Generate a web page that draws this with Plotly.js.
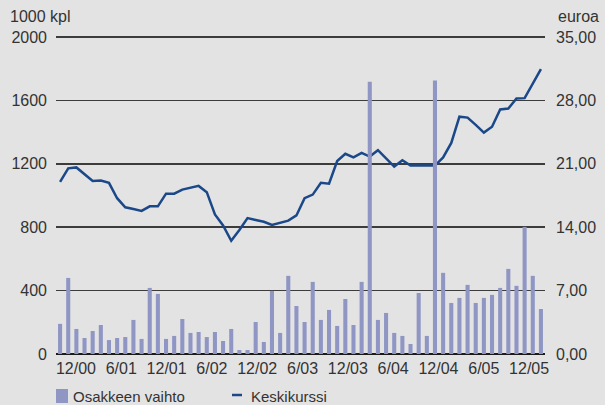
<!DOCTYPE html>
<html>
<head>
<meta charset="utf-8">
<script src="https://cdn.plot.ly/plotly-3.0.1.min.js"></script>
<style>html,body{margin:0;padding:0;background:#e3e3e3;}#chart{width:605px;height:405px;}</style>
</head>
<body>
<div id="chart"></div>
<script>
// Monthly turnover (1000 shares), 60 months
const volume = [190,480,158,101,145,183,88,101,107,215,95,417,379,95,114,221,133,139,107,139,
                82,158,25,25,202,76,398,133,493,303,202,455,215,278,177,347,183,455,1718,215,
                259,133,114,63,385,114,1725,512,322,354,436,322,354,373,417,537,430,802,493,284];
// Monthly average price (euro)
const price = [19.0,20.5,20.6,19.8,19.1,19.15,18.9,17.2,16.2,16.0,15.8,16.3,16.3,17.7,17.7,18.15,18.35,18.56,17.87,15.4,
               14.2,12.5,13.7,15.0,14.8,14.6,14.25,14.5,14.73,15.3,17.2,17.6,18.9,18.8,21.3,22.1,21.7,22.2,21.8,22.5,
               21.6,20.7,21.4,20.8,20.8,20.8,20.8,21.7,23.3,26.2,26.1,25.3,24.45,25.1,27.0,27.1,28.2,28.25,29.8,31.46];
const tickLabels = ['12/00','6/01','12/01','6/02','12/02','6/03','12/03','6/04','12/04','6/05','12/05'];
const seriesNames = ['Osakkeen vaihto','Keskikurssi'];
const barColor = '#8f96c4', lineColor = '#1b4889';

const months = volume.map((_, i) => i + 1);
const tickStart = 2.95, tickStep = 5.56;
const tickVals = tickLabels.map((_, i) => tickStart + i * tickStep);

const font = {family: 'Liberation Sans, Arial, sans-serif', size: 16, color: '#333333'};
const legFont = {family: font.family, size: 15, color: '#333333'};

// top headroom so the top gridline is not at the very plot edge
const priceTop = 35.22, volTop = 2000 * priceTop / 35;

const traces = [
  {type: 'scatter', mode: 'lines', x: months, y: price, name: seriesNames[1],
   xaxis: 'x', yaxis: 'y', line: {color: lineColor, width: 2.5}},
  {type: 'bar', x: months, y: volume, name: seriesNames[0],
   xaxis: 'x', yaxis: 'y2', marker: {color: barColor, line: {width: 0}}}
];

// paper coords: plot area is y 35..354 (319 px), x 56..545 (489 px)
const px = v => (v - 56) / 489;
const py = v => (354 - v) / 319;

const layout = {
  width: 605, height: 405,
  paper_bgcolor: '#e3e3e3', plot_bgcolor: '#e3e3e3',
  margin: {l: 56, r: 60, t: 35, b: 51, autoexpand: false},
  font: font,
  separators: ',.',
  bargap: 0.5,
  showlegend: false,
  xaxis: {range: [0.5, 60.5], tickmode: 'array', tickvals: tickVals, ticktext: tickLabels,
          showgrid: false, zeroline: false, showline: false, ticks: '', tickfont: font,
          ticklabelstandoff: 3, automargin: false},
  yaxis: {side: 'right', range: [0, priceTop], tickmode: 'array', tickvals: [0,7,14,21,28,35],
          tickformat: '.2f', showgrid: true, gridcolor: '#3c3c3c', gridwidth: 1.5,
          zeroline: false, showline: false, ticks: '', ticklabelstandoff: 10, tickfont: font, automargin: false},
  yaxis2: {side: 'left', overlaying: 'y', range: [0, volTop], tickmode: 'array',
           tickvals: [0,400,800,1200,1600,2000], tickformat: 'd', showgrid: false,
           zeroline: true, zerolinecolor: '#1a1a1a', zerolinewidth: 2,
           showline: false, ticks: '', ticklabelstandoff: 8, tickfont: font, automargin: false},
  shapes: [
    {type: 'rect', xref: 'paper', yref: 'paper', x0: px(56), x1: px(68), y0: py(389), y1: py(403),
     fillcolor: barColor, line: {width: 0}},
    {type: 'line', xref: 'paper', yref: 'paper', x0: px(232), x1: px(242), y0: py(395), y1: py(395),
     line: {color: lineColor, width: 2.5}}
  ],
  annotations: [
    {text: '1000 kpl', xref: 'paper', yref: 'paper', x: px(8), y: py(17), xanchor: 'left', yanchor: 'middle',
     showarrow: false, font: font},
    {text: 'euroa', xref: 'paper', yref: 'paper', x: px(556), y: py(17), xanchor: 'left', yanchor: 'middle',
     showarrow: false, font: font},
    {text: seriesNames[0], xref: 'paper', yref: 'paper', x: px(71), y: py(396), xanchor: 'left', yanchor: 'middle',
     showarrow: false, font: legFont},
    {text: seriesNames[1], xref: 'paper', yref: 'paper', x: px(249), y: py(396), xanchor: 'left', yanchor: 'middle',
     showarrow: false, font: legFont}
  ]
};

Plotly.newPlot('chart', traces, layout, {displayModeBar: false, staticPlot: true});
</script>
</body>
</html>
